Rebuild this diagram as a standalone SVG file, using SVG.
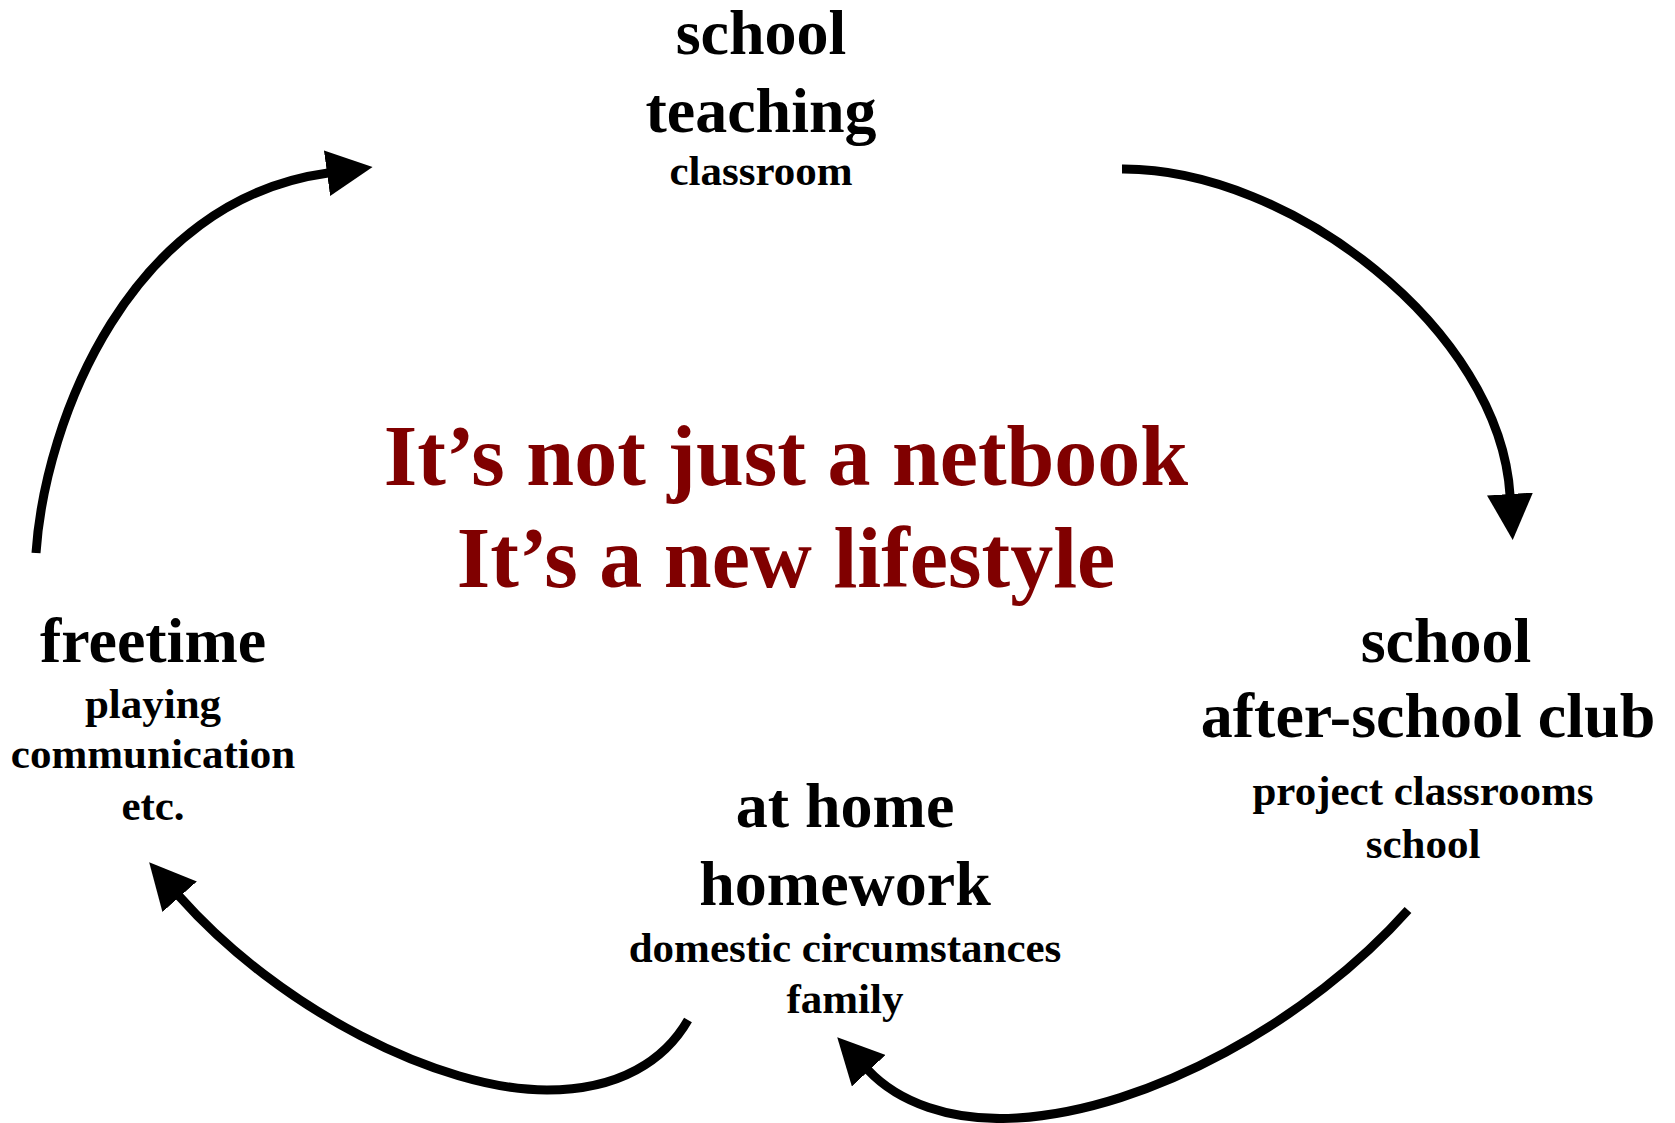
<svg xmlns="http://www.w3.org/2000/svg" width="1675" height="1123" viewBox="0 0 1675 1123">
<style>
  text { font-family: "Liberation Serif", "Times New Roman", serif; font-weight: bold; text-anchor: middle; fill: #000; }
  .big { font-size: 64px; }
  .small { font-size: 43px; }
  .title { font-size: 86px; fill: #800000; }
  .conn { fill: none; stroke: #000; stroke-width: 9; marker-end: url(#head); }
</style>
<defs>
  <marker id="head" markerUnits="userSpaceOnUse" viewBox="0 0 46 46" markerWidth="46" markerHeight="46" refX="1" refY="23" orient="auto">
    <path d="M0,0 L46,23 L0,46 Z" fill="#000"/>
  </marker>
</defs>
<rect width="1675" height="1123" fill="#fff"/>
<g id="connectors">
  <path class="conn" d="M36,553 C45,420 130,200 328,173"/>
  <path class="conn" d="M1122,169 C1290,168 1500,330 1510,495"/>
  <path class="conn" d="M1408,910 C1310,1020 1150,1110 1017,1118 C950,1122 898,1102 868,1070"/>
  <path class="conn" d="M688,1020 C665,1060 620,1090 547,1090 C440,1090 280,1010 179,896"/>
</g>
<g id="node-school-teaching">
  <text class="big" x="761" y="54">school</text>
  <text class="big" x="761" y="132">teaching</text>
  <text class="small" x="761" y="185">classroom</text>
</g>
<g id="node-after-school">
  <text class="big" x="1446" y="662">school</text>
  <text class="big" x="1428" y="737">after-school club</text>
  <text class="small" x="1423" y="805">project classrooms</text>
  <text class="small" x="1423" y="858">school</text>
</g>
<g id="node-at-home">
  <text class="big" x="845" y="827">at home</text>
  <text class="big" x="845" y="905">homework</text>
  <text class="small" x="845" y="962">domestic circumstances</text>
  <text class="small" x="845" y="1013">family</text>
</g>
<g id="node-freetime">
  <text class="big" x="153" y="662">freetime</text>
  <text class="small" x="153" y="718">playing</text>
  <text class="small" x="153" y="768">communication</text>
  <text class="small" x="153" y="820">etc.</text>
</g>
<g id="center-title">
  <text class="title" x="786" y="485">It’s not just a netbook</text>
  <text class="title" x="786" y="587">It’s a new lifestyle</text>
</g>
</svg>
